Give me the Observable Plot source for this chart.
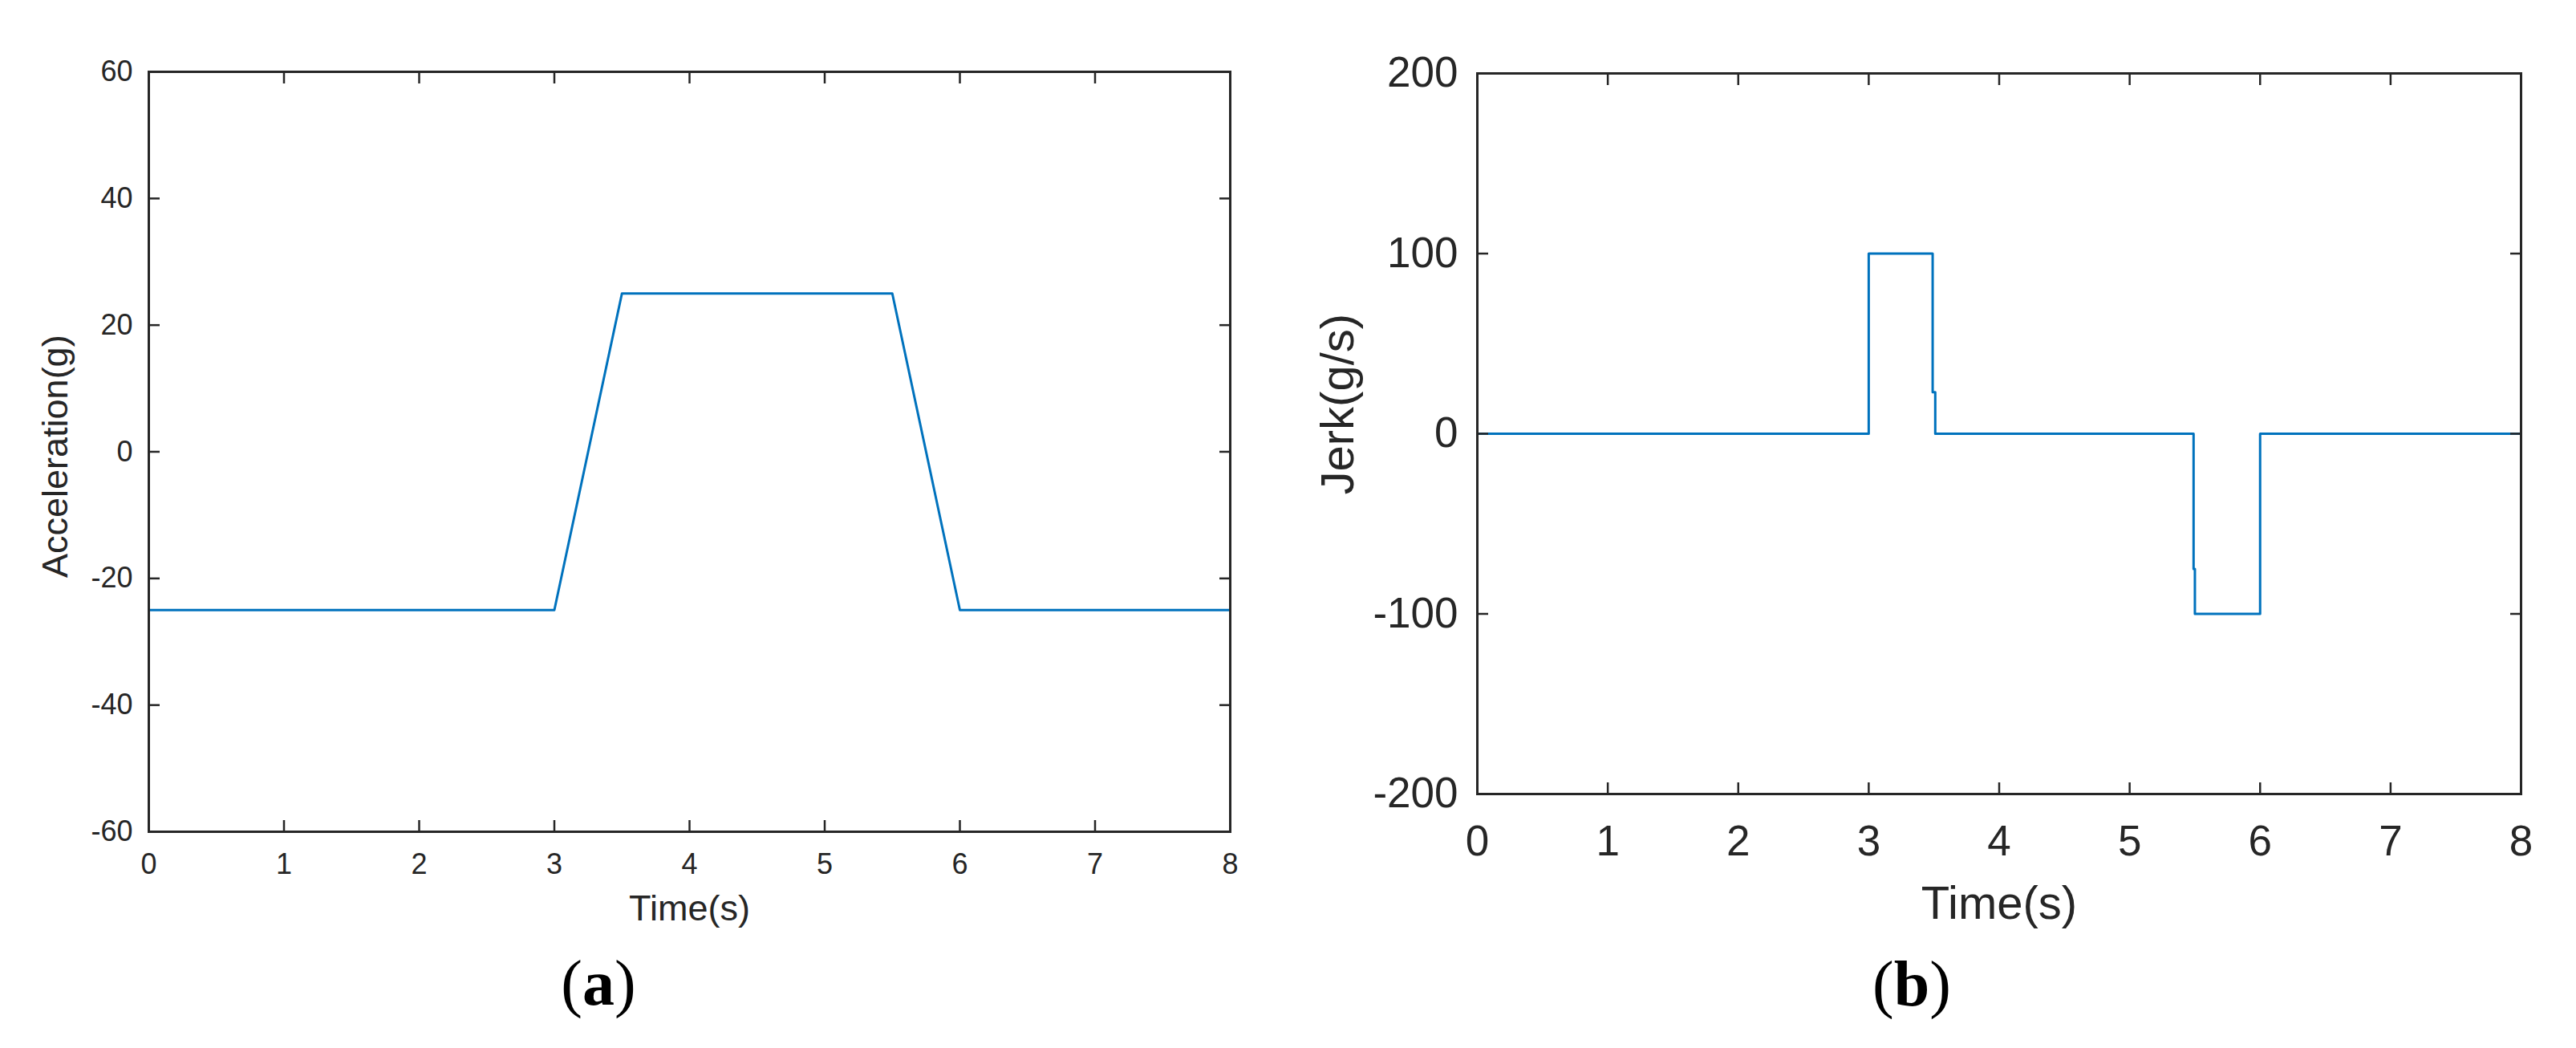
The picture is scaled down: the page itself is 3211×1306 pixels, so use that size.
<!DOCTYPE html>
<html>
<head>
<meta charset="utf-8">
<script src="https://cdn.jsdelivr.net/npm/d3@7"></script>
<script src="https://cdn.jsdelivr.net/npm/@observablehq/plot@0.6"></script>
<style>
  html, body { margin: 0; padding: 0; background: #fff; }
  #fig { position: relative; width: 3211px; height: 1306px; background: #fff; overflow: hidden; }
  .panel { position: absolute; top: 0; }
  .sub { position: absolute; font-family: "Liberation Serif", "Times New Roman", serif; font-size: 80px; line-height: 1; color: #000; transform: translateX(-50%); white-space: nowrap; }
  .sub b { font-weight: bold; }
</style>
</head>
<body>
<div id="fig">
  <div id="pa" class="panel" style="left:0px"></div>
  <div id="pb" class="panel" style="left:1600px"></div>
  <div class="sub" style="left:746px; top:1185px">(<b>a</b>)</div>
  <div class="sub" style="left:2383px; top:1186px">(<b>b</b>)</div>
</div>
<script>
// ---- data ----
const timeTicks = [0, 1, 2, 3, 4, 5, 6, 7, 8];
const accTicks = [-60, -40, -20, 0, 20, 40, 60];
const jerkTicks = [-200, -100, 0, 100, 200];

const accTime  = [0, 3, 3.5, 5.5, 6, 8];
const accValue = [-25, -25, 25, 25, -25, -25];

const jerkTime  = [0, 3, 3, 3.49, 3.49, 3.51, 3.51, 5.49, 5.49, 5.5, 5.5, 6, 6, 8];
const jerkValue = [0, 0, 100, 100, 23, 23, 0, 0, -75, -75, -100, -100, 0, 0];

const accData = accTime.map((t, i) => ({t, v: accValue[i]}));
const jerkData = jerkTime.map((t, i) => ({t, v: jerkValue[i]}));

const AX = "#262626";
const LINE = "#0072BD";
const FONT = "Liberation Sans, Arial, sans-serif";
const fmt = d => String(d);

function panel({data, yDomain, yTicks, yLabel, ml, mt, innerW, innerH, width, height,
                tickFont, labelFont, xPad, yPad, xLabelDy, yLabelDx, yLabelDy}) {
  return Plot.plot({
    width, height,
    marginLeft: ml, marginTop: mt,
    marginRight: width - ml - innerW,
    marginBottom: height - mt - innerH,
    style: {fontFamily: FONT, color: AX, background: "transparent", overflow: "visible"},
    x: {domain: [0, 8]},
    y: {domain: yDomain},
    marks: [
      Plot.line(data, {x: "t", y: "v", stroke: LINE, strokeWidth: 3}),
      Plot.frame({stroke: AX, strokeWidth: 3}),
      // inward ticks on all four sides
      Plot.axisX(timeTicks, {anchor: "bottom", tickSize: -14, strokeWidth: 2.5, text: null, label: null}),
      Plot.axisX(timeTicks, {anchor: "top", tickSize: -14, strokeWidth: 2.5, text: null, label: null}),
      Plot.axisY(yTicks, {anchor: "left", tickSize: -14, strokeWidth: 2.5, text: null, label: null}),
      Plot.axisY(yTicks, {anchor: "right", tickSize: -14, strokeWidth: 2.5, text: null, label: null}),
      // tick labels
      Plot.axisX(timeTicks, {anchor: "bottom", tickSize: 0, tickPadding: xPad, fontSize: tickFont, tickFormat: fmt, label: null, fill: AX}),
      Plot.axisY(yTicks, {anchor: "left", tickSize: 0, tickPadding: yPad, fontSize: tickFont, tickFormat: fmt, label: null, fill: AX}),
      // axis titles
      Plot.text(["Time(s)"], {frameAnchor: "bottom", dy: xLabelDy, lineAnchor: "middle", fontSize: labelFont, fill: AX, text: d => d}),
      Plot.text([yLabel], {frameAnchor: "left", rotate: -90, dx: yLabelDx, dy: yLabelDy, lineAnchor: "middle", fontSize: labelFont, fill: AX, text: d => d})
    ]
  });
}

document.getElementById("pa").append(panel({
  data: accData, yDomain: [-60, 60], yTicks: accTicks, yLabel: "Acceleration(g)",
  ml: 185, mt: 89, innerW: 1348, innerH: 947, width: 1600, height: 1306,
  tickFont: 36, labelFont: 45, xPad: 27, yPad: 20, xLabelDy: 96, yLabelDx: -116, yLabelDy: 157
}));

document.getElementById("pb").append(panel({
  data: jerkData, yDomain: [-200, 200], yTicks: jerkTicks, yLabel: "Jerk(g/s)",
  ml: 241, mt: 91, innerW: 1301, innerH: 898, width: 1611, height: 1306,
  tickFont: 53, labelFont: 58, xPad: 39, yPad: 24, xLabelDy: 137, yLabelDx: -173, yLabelDy: 76
}));
</script>
</body>
</html>
